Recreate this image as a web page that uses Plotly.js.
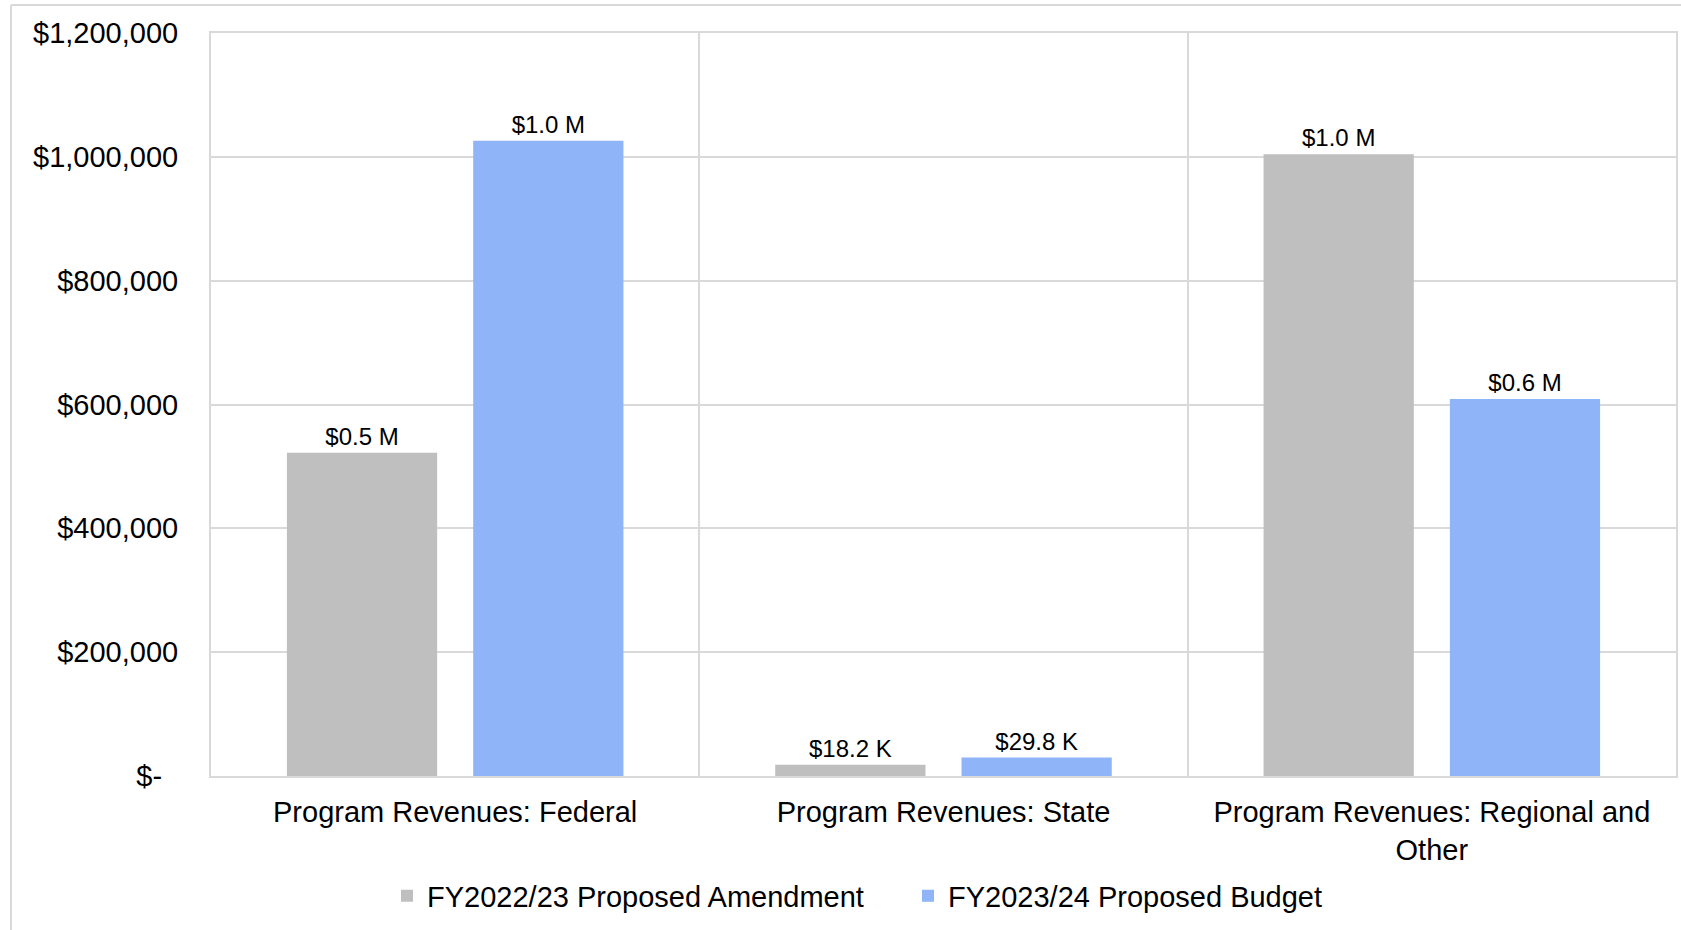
<!DOCTYPE html>
<html>
<head>
<meta charset="utf-8">
<script src="https://cdn.plot.ly/plotly-3.0.1.min.js"></script>
<style>
  html, body { margin: 0; padding: 0; background: #ffffff; }
  #chart { width: 1681px; height: 930px; }
</style>
</head>
<body>
<div id="chart"></div>
<script>
// ---- Data ----
const categories = [
  "Program Revenues: Federal",
  "Program Revenues: State",
  "Program Revenues: Regional and<br>Other"
];
const seriesNames = ["FY2022/23 Proposed Amendment", "FY2023/24 Proposed Budget"];
const amendmentValues = [522000, 18200, 1004000];
const budgetValues = [1026000, 29800, 609000];
const amendmentLabels = ["$0.5 M", "$18.2 K", "$1.0 M"];
const budgetLabels = ["$1.0 M", "$29.8 K", "$0.6 M"];
const yTickValues = [0, 200000, 400000, 600000, 800000, 1000000, 1200000];
const yTickLabels = ["$-\u00a0\u00a0", "$200,000", "$400,000", "$600,000", "$800,000", "$1,000,000", "$1,200,000"];

const FONT = "Liberation Sans, Arial, sans-serif";
const GRID = "#d9d9d9";

const traces = [
  {
    type: "bar",
    name: seriesNames[0],
    x: categories,
    y: amendmentValues,
    text: amendmentLabels,
    textposition: "outside",
    textfont: { family: FONT, size: 24, color: "#000000" },
    constraintext: "none",
    cliponaxis: false,
    marker: { color: "#bfbfbf", line: { width: 0 } },
    hoverinfo: "skip"
  },
  {
    type: "bar",
    name: seriesNames[1],
    x: categories,
    y: budgetValues,
    text: budgetLabels,
    textposition: "outside",
    textfont: { family: FONT, size: 24, color: "#000000" },
    constraintext: "none",
    cliponaxis: false,
    marker: { color: "#8fb4f8", line: { width: 0 } },
    hoverinfo: "skip"
  }
];

// paper coordinates for outer frame
const L = 211, R = 1676, T = 33, B = 776, W = 1681, H = 930;
const pw = R - L, ph = B - T;
const px = v => (v - L) / pw;
const py = v => (B - v) / ph;

const layout = {
  width: W,
  height: H,
  margin: { l: L, r: W - R, t: T, b: H - B, pad: 0 },
  paper_bgcolor: "#ffffff",
  plot_bgcolor: "#ffffff",
  font: { family: FONT, size: 29, color: "#000000" },
  barmode: "group",
  bargap: 0.237,
  bargroupgap: 0.1935,
  showlegend: true,
  legend: {
    orientation: "h",
    x: px(387),
    xanchor: "left",
    y: py(896),
    yanchor: "middle",
    entrywidth: 476,
    entrywidthmode: "pixels",
    font: { family: FONT, size: 29, color: "#000000" },
    bgcolor: "rgba(0,0,0,0)",
    itemclick: false,
    itemdoubleclick: false
  },
  xaxis: {
    type: "category",
    tickson: "boundaries",
    showgrid: true,
    gridcolor: GRID,
    gridwidth: 2,
    showline: true,
    mirror: true,
    linecolor: GRID,
    linewidth: 2,
    ticks: "",
    ticklabelstandoff: 9,
    tickfont: { family: FONT, size: 29, color: "#000000" },
    fixedrange: true
  },
  yaxis: {
    range: [0, 1200000],
    tickmode: "array",
    tickvals: yTickValues,
    ticktext: yTickLabels,
    showgrid: true,
    gridcolor: GRID,
    gridwidth: 2,
    zeroline: false,
    showline: true,
    mirror: true,
    linecolor: GRID,
    linewidth: 2,
    ticks: "",
    ticklabelstandoff: 25,
    tickfont: { family: FONT, size: 29, color: "#000000" },
    fixedrange: true
  },
  shapes: [
    { type: "line", xref: "paper", yref: "paper", x0: px(11), x1: px(W), y0: py(5), y1: py(5),
      line: { color: GRID, width: 2 }, layer: "above" },
    { type: "line", xref: "paper", yref: "paper", x0: px(11), x1: px(11), y0: py(5), y1: py(H),
      line: { color: GRID, width: 2 }, layer: "above" }
  ]
};

Plotly.newPlot("chart", traces, layout, { displayModeBar: false, staticPlot: true });
</script>
</body>
</html>
